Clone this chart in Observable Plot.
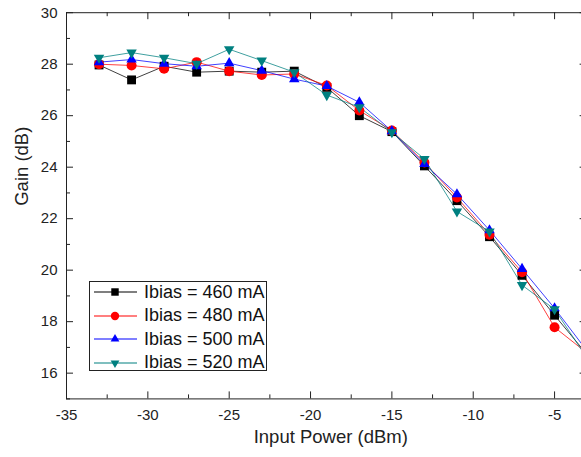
<!DOCTYPE html>
<html><head><meta charset="utf-8">
<script src="https://cdn.jsdelivr.net/npm/d3@7"></script>
<script src="https://cdn.jsdelivr.net/npm/@observablehq/plot@0.6"></script>
<style>
html,body{margin:0;padding:0;background:#fff;overflow:hidden;width:581px;height:457px}
#wrap{position:relative;width:581px;height:457px;overflow:hidden}
#chart{position:absolute;left:0;top:0;width:600px;height:457px}
#chart svg{max-width:none !important;width:600px !important;height:457px !important}
#legend{position:absolute;left:89px;top:281px;width:178px;height:90px;border:1px solid #222;background:#fff;box-sizing:border-box;
  font-family:"Liberation Sans",Arial,sans-serif;font-size:18px;color:#111}
.row{position:absolute;left:2px;height:22px;display:flex;align-items:center;white-space:nowrap}
.row svg{display:block;margin-right:6px}
</style></head>
<body><div id="wrap"><div id="chart"></div><div id="legend"></div></div>
<script>
const inputPower = [-33,-31,-29,-27,-25,-23,-21,-19,-17,-15,-13,-11,-9,-7,-5,-3];
const gain460 = [27.97,27.39,27.92,27.69,27.73,27.69,27.73,27.10,26.00,25.38,24.05,22.70,21.30,19.80,18.25,16.72];
const gain480 = [28.00,27.95,27.82,28.08,27.73,27.58,27.62,27.17,26.20,25.42,24.18,22.82,21.38,19.92,17.78,16.78];
const gain500 = [28.08,28.18,28.02,27.92,28.04,27.75,27.42,27.15,26.52,25.40,24.12,22.95,21.55,20.05,18.52,16.86];
const gain520 = [28.25,28.45,28.25,28.02,28.58,28.14,27.69,26.80,26.33,25.36,24.32,22.28,21.50,19.42,18.48,16.58];
const seriesNames = ["Ibias = 460 mA","Ibias = 480 mA","Ibias = 500 mA","Ibias = 520 mA"];
const seriesColors = ["#000000","#ff0000","#0000ff","#008080"];
const seriesSymbols = ["square","circle","triangle2","triangle2"];
const seriesRotate = [0,0,0,180];
const xMajorTicks = [-35,-30,-25,-20,-15,-10,-5];
const xMinorTicks = [-32.5,-27.5,-22.5,-17.5,-12.5,-7.5];
const yMajorTicks = [16,18,20,22,24,26,28,30];
const yMinorTicks = [15,17,19,21,23,25,27,29];
const xLabel = "Input Power (dBm)";
const yLabel = "Gain (dB)";

const allGains = [gain460,gain480,gain500,gain520];
const rows = [];
allGains.forEach((g,si)=>g.forEach((v,i)=>rows.push({x:inputPower[i], y:v, s:si})));

const W = 600, H = 457, mL = 66, mR = 13.4, mT = 12.2, mB = 58.6;
const plotW = W - mL - mR, plotH = H - mT - mB;

const marks = [];
seriesNames.forEach((name,si)=>{
  const d = rows.filter(r=>r.s===si);
  marks.push(Plot.line(d,{x:"x",y:"y",stroke:seriesColors[si],strokeWidth:1,strokeOpacity:0.75}));
});
seriesNames.forEach((name,si)=>{
  const d = rows.filter(r=>r.s===si);
  marks.push(Plot.dot(d,{x:"x",y:"y",fill:seriesColors[si],stroke:"none",symbol:seriesSymbols[si],
    r: 5, rotate:seriesRotate[si]}));
});
marks.push(Plot.frame({stroke:"#222",strokeWidth:1}));
marks.push(Plot.tickX(xMajorTicks,{x:d=>d,stroke:"#222",insetTop:plotH-7}));
marks.push(Plot.tickX(xMajorTicks,{x:d=>d,stroke:"#222",insetBottom:plotH-7}));
marks.push(Plot.tickX(xMinorTicks,{x:d=>d,stroke:"#222",insetTop:plotH-4}));
marks.push(Plot.tickX(xMinorTicks,{x:d=>d,stroke:"#222",insetBottom:plotH-4}));
marks.push(Plot.tickY(yMajorTicks,{y:d=>d,stroke:"#222",insetRight:plotW-7}));
marks.push(Plot.tickY(yMajorTicks,{y:d=>d,stroke:"#222",insetLeft:plotW-7}));
marks.push(Plot.tickY(yMinorTicks,{y:d=>d,stroke:"#222",insetRight:plotW-4}));
marks.push(Plot.tickY(yMinorTicks,{y:d=>d,stroke:"#222",insetLeft:plotW-4}));
marks.push(Plot.axisX({ticks:xMajorTicks,tickSize:0,tickPadding:10,tickFormat:d=>String(d),label:null,fontSize:15,fill:"#222"}));
marks.push(Plot.axisY({ticks:yMajorTicks,tickSize:0,tickPadding:9,tickFormat:d=>String(d),label:null,fontSize:15,fill:"#222"}));
marks.push(Plot.text([xLabel],{frameAnchor:"bottom",dx:4,dy:44.5,fontSize:18.5,fill:"#222",text:d=>d}));
marks.push(Plot.text([yLabel],{frameAnchor:"left",dx:-44,rotate:-90,fontSize:18.5,fill:"#222",text:d=>d}));

const chart = Plot.plot({
  width: W, height: H,
  marginLeft: mL, marginRight: mR, marginTop: mT, marginBottom: mB,
  style: {fontFamily:"'Liberation Sans', Arial, sans-serif", background:"#fff", overflow:"visible", maxWidth:"none"},
  x: {domain:[-35,-3]},
  y: {domain:[15,30]},
  marks
});
document.getElementById("chart").appendChild(chart);

const leg = document.getElementById("legend");
seriesNames.forEach((name,si)=>{
  const row = document.createElement("div");
  row.className = "row";
  row.style.top = (-1 + si*23.6) + "px";
  const svg = d3.create("svg").attr("width",46).attr("height",22);
  svg.append("line").attr("x1",2).attr("x2",45).attr("y1",11).attr("y2",11).attr("stroke",seriesColors[si]).attr("stroke-width",1.2);
  const symMap = {square:d3.symbolSquare, circle:d3.symbolCircle, triangle2:d3.symbolTriangle2};
  svg.append("path").attr("d",d3.symbol(symMap[seriesSymbols[si]], Math.PI*4.2*4.2)())
    .attr("transform",`translate(23,11) rotate(${seriesRotate[si]})`).attr("fill",seriesColors[si]);
  row.appendChild(svg.node());
  const t = document.createElement("span"); t.textContent = name; row.appendChild(t);
  leg.appendChild(row);
});
</script></body></html>
